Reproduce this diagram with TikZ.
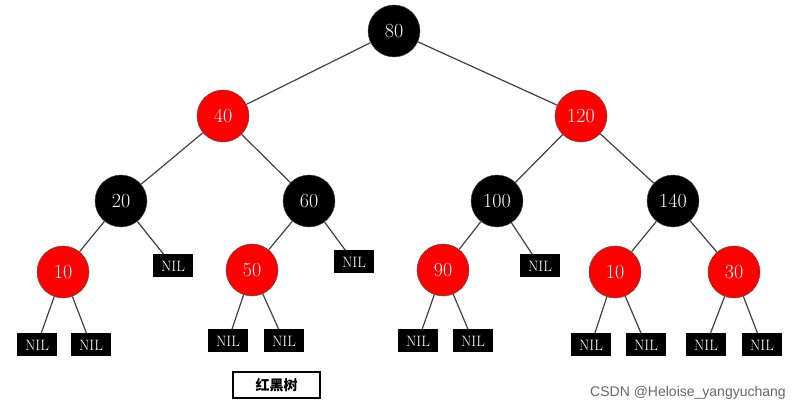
\documentclass[tikz,border=0pt]{standalone}
\usepackage{fontspec}
\newfontfamily\cjk{Noto Sans CJK SC}
\newfontfamily\wm{Liberation Sans}
\begin{document}
\begin{tikzpicture}[x=1pt,y=-1pt,
  rb/.style={circle,minimum size=52pt,inner sep=0pt,font=\fontsize{20}{20}\selectfont,text=white,draw=black!70},
  red/.style={rb,fill=red},
  blk/.style={rb,fill=black},
  nil/.style={rectangle,fill=black,text=white,minimum width=40pt,minimum height=23pt,inner sep=0pt,font=\fontsize{15}{15}\selectfont},
  e/.style={draw=black!75,line width=1.2pt}]
\useasboundingbox (0,0) rectangle (811,411);
\node[blk] (n80) at (394,31) {80};
\node[red] (n40) at (223,116) {40};
\node[red] (n120) at (581,116) {120};
\node[blk] (n20) at (121,201) {20};
\node[blk] (n60) at (309,201) {60};
\node[blk] (n100) at (497,201) {100};
\node[blk] (n140) at (673,201) {140};
\node[red] (n10) at (63,272) {10};
\node[nil] (x20) at (173,266) {NIL};
\node[red] (n50) at (252,270) {50};
\node[nil] (x60) at (354,262) {NIL};
\node[red] (n90) at (443,270) {90};
\node[nil] (x100) at (540,266) {NIL};
\node[red] (m10) at (615,272) {10};
\node[red] (n30) at (734,272) {30};
\node[nil] (a1) at (37,345) {NIL};
\node[nil] (a2) at (91,345) {NIL};
\node[nil] (b1) at (228,341) {NIL};
\node[nil] (b2) at (284,341) {NIL};
\node[nil] (c1) at (418,341) {NIL};
\node[nil] (c2) at (473,341) {NIL};
\node[nil] (d1) at (591,345) {NIL};
\node[nil] (d2) at (646,345) {NIL};
\node[nil] (f1) at (706,345) {NIL};
\node[nil] (f2) at (762,345) {NIL};
\foreach \a/\b in {n80/n40,n80/n120,n40/n20,n40/n60,n120/n100,n120/n140,n20/n10,n20/x20,n60/n50,n60/x60,n100/n90,n100/x100,n140/m10,n140/n30,n10/a1,n10/a2,n50/b1,n50/b2,n90/c1,n90/c2,m10/d1,m10/d2,n30/f1,n30/f2}
  \draw[e] (\a) -- (\b);
\node[draw=black,line width=1.2pt,minimum width=87pt,minimum height=26pt,font=\cjk\bfseries\fontsize{14}{14}\selectfont] (lbl) at (276.5,385) {红黑树};
\node[text=black!60,font=\wm\fontsize{14}{14}\selectfont] (wm) at (688,393) {CSDN @Heloise\_yangyuchang};
\end{tikzpicture}
\end{document}
